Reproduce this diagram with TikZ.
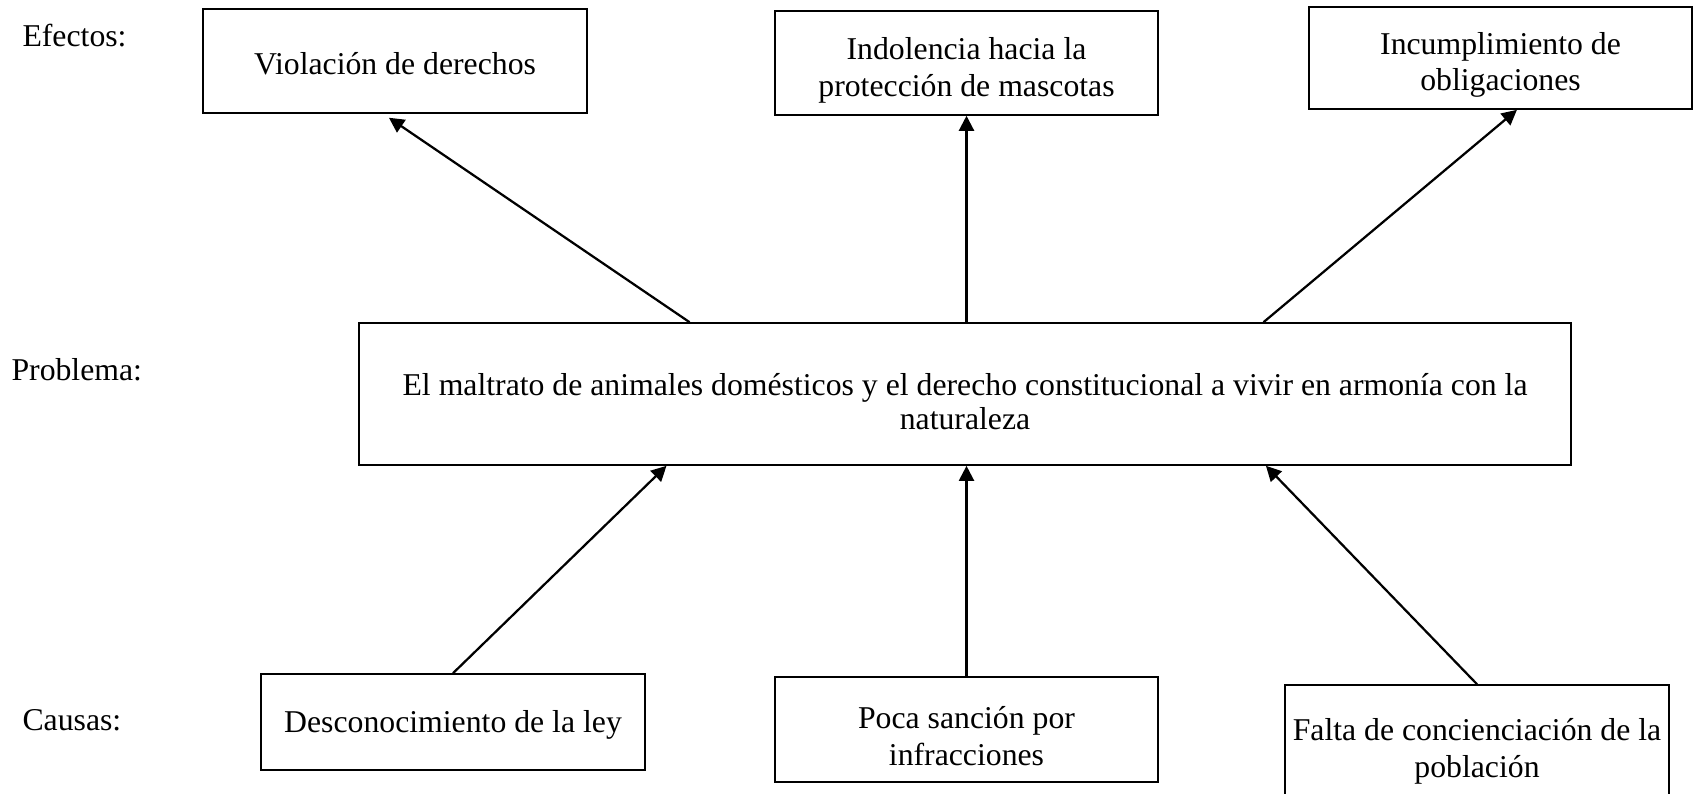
\documentclass[tikz,border=0pt]{standalone}
\usepackage{fontspec}
\setmainfont{Liberation Serif}
\usetikzlibrary{arrows.meta}
\usetikzlibrary{calc}

\tikzset{
  caja/.style={draw, line width=0.6pt, inner sep=1pt, align=center, text height=10.5pt, font=\fontsize{12}{13.9}\selectfont},
  doble/.style={text height=27.5pt},
  flecha/.style={-{Triangle[length=5.7pt,width=5.7pt]}, line width=0.85pt},
  nivel/.style={anchor=west, inner sep=0pt, font=\fontsize{12}{13.8}\selectfont}
}

\begin{document}
\begin{tikzpicture}[x=0.378pt,y=-0.378pt]
\useasboundingbox (0,0) rectangle (1699,793);

% niveles
\node[nivel] (lefe) at (22,36) {Efectos:};
\node[nivel] (lpro) at (11,370) {Problema:};
\node[nivel] (lcau) at (22,720) {Causas:};

% efectos
\node[caja,minimum width=145.2pt,minimum height=39.3pt] (efe1) at (395,61) {Violación de derechos};
\node[caja,doble,minimum width=144.8pt,minimum height=39.3pt] (efe2) at (966.5,63) {Indolencia hacia la\\protección de mascotas};
\node[caja,doble,minimum width=144.8pt,minimum height=38.6pt] (efe3) at (1500.5,58) {Incumplimiento de\\obligaciones};

% problema
\node[caja,minimum width=458.1pt,minimum height=53.7pt,text height=26.7pt,font=\fontsize{12}{12.9}\selectfont] (prob) at (965,394) {El maltrato de animales domésticos y el derecho constitucional a vivir en armonía con la\\naturaleza};

% causas
\node[caja,minimum width=145.2pt,minimum height=36.3pt] (cau1) at (453,722) {Desconocimiento de la ley};
\node[caja,doble,minimum width=144.8pt,minimum height=39.7pt] (cau2) at (966.5,729.5) {Poca sanción por\\infracciones};
\node[caja,doble,minimum width=145.2pt,minimum height=44.6pt] (cau3) at (1477,744) {Falta de concienciación de la\\población};

% flechas hacia los efectos
\draw[flecha] ($(prob.north west)!0.273!(prob.north east)$) -- ([xshift=-2.3pt,yshift=-1.5pt]efe1.south);
\draw[flecha] (prob.north -| efe2.south) -- (efe2.south);
\draw[flecha] ($(prob.north west)!0.746!(prob.north east)$) -- ([xshift=6.2pt]efe3.south);

% flechas desde las causas
\draw[flecha] (cau1.north) -- ($(prob.south west)!0.254!(prob.south east)$);
\draw[flecha] (cau2.north) -- (cau2.north |- prob.south);
\draw[flecha] (cau3.north) -- ($(prob.south west)!0.748!(prob.south east)$);

\end{tikzpicture}
\end{document}
